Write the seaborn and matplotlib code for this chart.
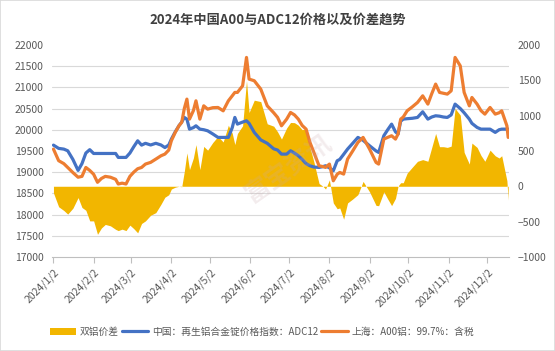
#!/usr/bin/env python3
"""2024 China A00 vs ADC12 prices and their spread (twin-axis line + area)."""

import pandas as pd
import numpy as np
import matplotlib
matplotlib.use("Agg")
import matplotlib.pyplot as plt
from matplotlib.patches import Patch, Rectangle
from matplotlib.lines import Line2D
import seaborn as sns

# ---- data ----
dates = [
    "2024-01-02", "2024-01-06", "2024-01-10", "2024-01-13", "2024-01-17", "2024-01-21",
    "2024-01-24", "2024-01-27", "2024-01-30", "2024-02-02", "2024-02-05", "2024-02-08",
    "2024-02-11", "2024-02-15", "2024-02-19", "2024-02-21", "2024-02-24", "2024-02-27",
    "2024-03-01", "2024-03-04", "2024-03-07", "2024-03-10", "2024-03-13", "2024-03-17",
    "2024-03-21", "2024-03-25", "2024-03-28", "2024-03-31", "2024-04-02", "2024-04-05",
    "2024-04-08", "2024-04-10", "2024-04-12", "2024-04-14", "2024-04-16", "2024-04-19",
    "2024-04-21", "2024-04-24", "2024-04-27", "2024-04-30", "2024-05-04", "2024-05-08",
    "2024-05-12", "2024-05-16", "2024-05-19", "2024-05-21", "2024-05-23", "2024-05-27",
    "2024-05-30", "2024-06-01", "2024-06-05", "2024-06-10", "2024-06-15", "2024-06-20",
    "2024-06-23", "2024-06-26", "2024-06-30", "2024-07-03", "2024-07-06", "2024-07-09",
    "2024-07-12", "2024-07-15", "2024-07-18", "2024-07-21", "2024-07-25", "2024-07-28",
    "2024-07-30", "2024-08-02", "2024-08-05", "2024-08-08", "2024-08-10", "2024-08-13",
    "2024-08-16", "2024-08-20", "2024-08-24", "2024-08-28", "2024-09-02", "2024-09-07",
    "2024-09-09", "2024-09-13", "2024-09-16", "2024-09-19", "2024-09-22", "2024-09-24",
    "2024-09-26", "2024-09-28", "2024-10-01", "2024-10-05", "2024-10-09", "2024-10-13",
    "2024-10-17", "2024-10-20", "2024-10-23", "2024-10-26", "2024-10-29", "2024-11-01",
    "2024-11-04", "2024-11-07", "2024-11-11", "2024-11-14", "2024-11-18", "2024-11-20",
    "2024-11-24", "2024-11-27", "2024-11-30", "2024-12-04", "2024-12-08", "2024-12-11",
    "2024-12-13", "2024-12-17", "2024-12-18",
]

# 上海 A00 铝 (orange)
a00 = [
    19543, 19270, 19200, 19110, 18990, 18880, 18900, 19110, 19040, 18950, 18760, 18850,
    18900, 18880, 18830, 18720, 18740, 18720, 18900, 19000, 19080, 19110, 19190, 19230,
    19307, 19386, 19425, 19520, 19740, 19937, 20100, 20173, 20500, 20722, 20250, 20450,
    20682, 20250, 20564, 20486, 20520, 20525, 20446, 20682, 20800, 20880, 20880, 21036,
    21705, 21194, 21155, 20958, 20564, 20400, 20290, 20093, 20250, 20407, 20350, 20250,
    20100, 20014, 19700, 19465, 19150, 19130, 19111, 19190, 18796, 18950, 18993, 18954,
    19307, 19500, 19701, 19819, 19543, 19229, 19190, 19779, 19820, 19858, 19779, 19900,
    20250, 20300, 20446, 20540, 20643, 20800, 20604, 20850, 21076, 20880, 20860, 20840,
    20918, 21705, 21507, 20880, 20564, 20761, 20604, 20450, 20368, 20525, 20368, 20400,
    20446, 20093, 19819,
]

# 中国 再生铝合金锭 ADC12 (blue)
adc12 = [
    19637, 19560, 19543, 19504, 19300, 19040, 19200, 19450, 19530, 19440, 19440, 19440,
    19440, 19440, 19440, 19347, 19347, 19347, 19450, 19600, 19739, 19637, 19680, 19640,
    19680, 19640, 19580, 19640, 19779, 19950, 20100, 20180, 20290, 20250, 20014, 20050,
    20093, 20014, 20000, 19975, 19900, 19819, 19819, 19819, 20050, 20290, 20133, 20180,
    20211, 20150, 19937, 19760, 19680, 19550, 19520, 19425, 19425, 19504, 19450, 19386,
    19300, 19200, 19150, 19120, 19111, 19130, 19150, 19100, 19032, 19268, 19300, 19420,
    19543, 19680, 19819, 19750, 19622, 19500, 19465, 19858, 20000, 20132, 19950, 19897,
    20200, 20250, 20260, 20270, 20290, 20423, 20250, 20300, 20329, 20320, 20300, 20290,
    20350, 20604, 20500, 20400, 20250, 20150, 20054, 20014, 20014, 20014, 19937, 20000,
    20014, 20014, 20014,
]

tick_dates = [f"2024-{m:02d}-02" for m in range(1, 13)]
tick_labels = [f"2024/{m}/2" for m in range(1, 13)]
left_ticks = list(range(17000, 22001, 500))
right_ticks = list(range(-1000, 2001, 500))

legend_labels = ["双铝价差", "中国：再生铝合金锭价格指数：ADC12", "上海：A00铝：99.7%：含税"]

C_SPREAD = "#F2B600"
C_BLUE = "#4472C4"
C_ORANGE = "#ED7D31"
C_TEXT = "#595959"


def create_figure():
    sns.set_style("white")
    plt.rcParams["font.family"] = ["Noto Sans CJK SC", "DejaVu Sans"]

    df = pd.DataFrame({"date": pd.to_datetime(dates), "a00": a00, "adc12": adc12})
    df["spread"] = df["a00"] - df["adc12"]

    fig = plt.figure(figsize=(5.55, 3.51), dpi=100)
    fig.patches.append(Rectangle((0, 0), 1, 1, transform=fig.transFigure,
                                 fill=False, edgecolor="#D9D9D9", linewidth=1.2))

    # right axis (spread area) sits at the back, left axis (prices) in front
    ax2 = fig.add_axes([0.094, 0.268, 0.824, 0.604])
    ax = ax2.twinx()
    ax.yaxis.tick_left()
    ax.yaxis.set_label_position("left")
    ax2.yaxis.tick_right()
    ax.set_zorder(ax2.get_zorder() + 1)
    ax.patch.set_visible(False)

    ax2.fill_between(df["date"], 0, df["spread"], color=C_SPREAD, linewidth=0,
                     zorder=2)
    ax2.set_ylim(-1000, 2000)
    ax2.set_yticks(right_ticks)
    # gridlines follow the left axis steps (every 500 on the left = 300 on the right)
    ax2.set_yticks(np.arange(-1000, 2001, 300), minor=True)
    ax2.grid(True, which="minor", axis="y", color="#D9D9D9", linewidth=0.8)
    ax2.grid(False, which="major")
    ax2.tick_params(axis="y", which="both", length=0, labelsize=7.5,
                    labelcolor=C_TEXT, pad=6)

    sns.lineplot(data=df, x="date", y="adc12", ax=ax, color=C_BLUE, linewidth=2.3)
    sns.lineplot(data=df, x="date", y="a00", ax=ax, color=C_ORANGE, linewidth=2.3)
    ax.set_ylim(17000, 22000)
    ax.set_yticks(left_ticks)
    ax.tick_params(axis="y", length=0, labelsize=7.5, labelcolor=C_TEXT, pad=6)
    ax.set_xlabel("")
    ax.set_ylabel("")

    ax2.set_xlim(pd.Timestamp("2024-01-01"), pd.Timestamp("2024-12-19"))
    ax.set_xlim(pd.Timestamp("2024-01-01"), pd.Timestamp("2024-12-19"))
    ax2.set_xticks(pd.to_datetime(tick_dates))
    ax2.set_xticklabels(tick_labels, rotation=45, ha="right", rotation_mode="anchor")
    ax2.tick_params(axis="x", length=4, color="#BFBFBF", labelsize=7.5,
                    labelcolor=C_TEXT, pad=3, direction="out", bottom=True)

    for a in (ax, ax2):
        for s in ("top", "left", "right", "bottom"):
            a.spines[s].set_visible(False)
    ax2.spines["bottom"].set_visible(True)
    ax2.spines["bottom"].set_color("#BFBFBF")
    ax2.spines["bottom"].set_linewidth(0.8)

    # faint watermark
    fig.text(0.52, 0.52, "富宝资讯", fontsize=18, color="#C9A9AE", alpha=0.22,
             rotation=35, ha="center", va="center", fontweight="bold")

    fig.suptitle("2024年中国A00与ADC12价格以及价差趋势", fontsize=9.5,
                 fontweight="bold", color="#404040", y=0.965)

    handles = [
        Patch(facecolor=C_SPREAD, edgecolor="none"),
        Line2D([], [], color=C_BLUE, linewidth=2.3),
        Line2D([], [], color=C_ORANGE, linewidth=2.3),
    ]
    fig.legend(handles, legend_labels, loc="center", bbox_to_anchor=(0.472, 0.055),
               ncol=3, frameon=False, fontsize=7, handlelength=2.7,
               handleheight=0.8, handletextpad=0.4, columnspacing=0.3,
               labelcolor=C_TEXT)
    return fig


def main():
    fig = create_figure()
    fig.savefig("out.png", dpi=100, facecolor="white")
    plt.close(fig)


if __name__ == "__main__":
    main()
